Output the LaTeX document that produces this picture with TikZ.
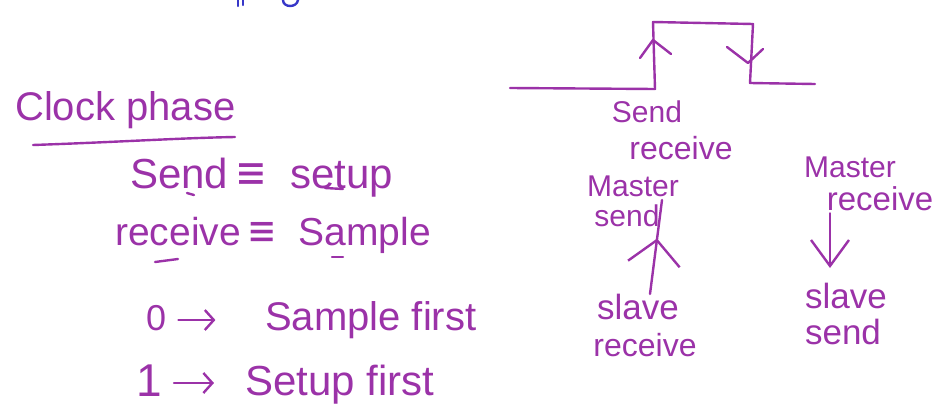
\documentclass[tikz,border=0pt]{standalone}
\usepackage{fontspec}
\setmainfont{Liberation Sans}
\newfontfamily\symfont{DejaVu Sans}
\usetikzlibrary{arrows.meta,decorations.markings,calc}
\definecolor{ink}{RGB}{155,50,168}
\definecolor{blueink}{RGB}{55,55,200}
\newcommand\handsz[1]{\fontsize{#1}{#1}\selectfont}
\newcommand\equivsym{{\symfont\scalebox{0.9}[1.1]{≡}}}
\begin{document}
\begin{tikzpicture}[x=1pt,y=-1pt,
  every node/.style={text=ink, inner sep=0pt},
  pen/.style={draw=ink, line width=2.4pt, line cap=round, line join=round},
  bluepen/.style={draw=blueink, line width=2.4pt, line cap=round},
  lbl/.style={font=\handsz{30}},
  big/.style={font=\handsz{40}},
  barb/.style={-{Straight Barb[length=9pt,width=20pt]}},
  midarrow/.style={postaction={decorate},decoration={markings,
     mark=at position 0.59 with {\arrow[line width=2.4pt]{Straight Barb[length=24pt,width=52pt]}}}}
]
\useasboundingbox (0,0) rectangle (952,415);
% cut-off blue fragments at the top
\draw[bluepen] (238,0) -- (238,6);
\draw[bluepen] (243,0) -- (243,5);
\draw[bluepen] (283,0) .. controls (283,8) and (297,8) .. (298,0);

% left block
\node[big, anchor=base west] (title) at (15,120) {Clock phase};
\draw[pen] (33,145) .. controls (120,142) and (180,138) .. (235,137);
\node[font=\handsz{42}, anchor=base west] (l1) at (130,188) {Send\,\equivsym\ \ setup};
\node[font=\handsz{39}, anchor=base west] (l2) at (115,245) {receive\,\equivsym\ \ Sample};
\draw[pen] (187,193) -- (194,195);
\draw[pen] (325,188) -- (343,189);
\draw[pen] (155,262) -- (178,259);
\draw[pen] (332,257) -- (343,257);

\node[font=\handsz{36}, anchor=base west] (n0) at (146,330) {0};
\node[big, anchor=base west] (s0) at (265,330) {Sample first};
\node[font=\handsz{46}, anchor=base west] (n1) at (136,396) {1};
\node[font=\handsz{42}, anchor=base west] (s1) at (245,395) {Setup first};
\draw[pen, barb] (n0.east |- 0,320) ++(12,0) -- ++(37,0);
\draw[pen, barb] (n1.east |- 0,383) ++(12,0) -- ++(40,0);

% clock waveform
\draw[pen] (510,88) -- (655,89) -- (653,22) -- (753,24) -- (750,83) -- (815,84);
\draw[pen] (640,58) -- (653,40) -- (671,54);
\draw[pen] (727,47) -- (748,63) -- (763,49);

% right labels
\node[font=\handsz{30}] (snd) at (647,112) {Send};
\node[font=\handsz{32}] (rcv) at (681,148) {receive};
\node[lbl] (ms1) at (633,186) {Master};
\node[lbl] (ms2) at (627,216) {send};
\node[font=\handsz{35}] (sr1) at (638,307) {slave};
\node[font=\handsz{32}] (sr2) at (645,345) {receive};
\node[lbl] (mr1) at (850,167) {Master};
\node[font=\handsz{33}] (mr2) at (880,199) {receive};
\node[font=\handsz{35}] (ss1) at (846,296) {slave};
\node[font=\handsz{35}] (ss2) at (843,332) {send};

\coordinate (mstip) at (662,200);
\draw[pen, midarrow] (sr1.north -| 650,0) -- (mstip);
\draw[pen, -{Straight Barb[length=26pt,width=38pt]}] (mr2.south -| 830,0) ++(0,2) -- (830,268);
\end{tikzpicture}
\end{document}
